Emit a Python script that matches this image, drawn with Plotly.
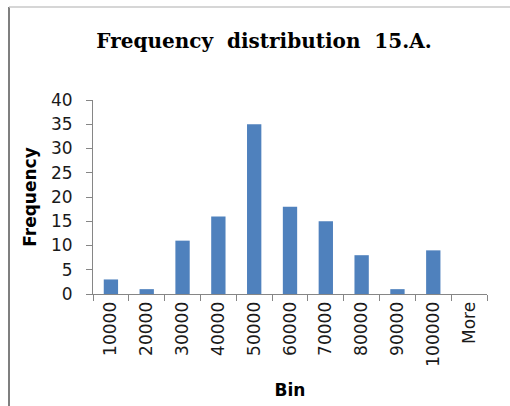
import plotly.graph_objects as go

bins = ["10000", "20000", "30000", "40000", "50000", "60000", "70000",
        "80000", "90000", "100000", "More"]
frequency = [3, 1, 11, 16, 35, 18, 15, 8, 1, 9, 0]

title_text = "Frequency\u00a0 distribution\u00a0 15.A."

fig = go.Figure()
fig.add_trace(go.Bar(x=bins, y=frequency, marker=dict(color="#4F81BD", line=dict(width=0))))

L, R, T, B = 93, 23, 100, 112
W, H = 510, 406
pw, ph = W - L - R, H - T - B

axis_col = "#868686"
tick_font = dict(family="DejaVu Sans", size=17, color="#1a1a1a")

fig.update_layout(
    width=W, height=H,
    margin=dict(l=L, r=R, t=T, b=B, autoexpand=False),
    paper_bgcolor="white", plot_bgcolor="white",
    bargap=0.6,
    showlegend=False,
    title=dict(text=title_text, x=264 / W, xanchor="center", y=1 - 41 / H, yanchor="middle",
               font=dict(family="DejaVu Serif", size=20, color="black", weight="bold")),
    xaxis=dict(
        type="category", tickson="boundaries", ticks="outside", ticklen=6, tickcolor=axis_col,
        showline=True, linecolor=axis_col, linewidth=1, showgrid=False, zeroline=False,
        tickangle=-90, tickfont=tick_font,
        title=dict(text="Bin", font=dict(family="DejaVu Sans", size=17, color="black", weight="bold"),
                   standoff=18),
        fixedrange=True,
    ),
    yaxis=dict(
        range=[0, 40], dtick=5, tick0=0, ticks="outside", ticklen=6, tickcolor=axis_col,
        showline=True, linecolor=axis_col, linewidth=1, showgrid=False, zeroline=False,
        tickfont=tick_font, ticklabelstandoff=10,
        title=dict(text="Frequency", font=dict(family="DejaVu Sans", size=17, color="black", weight="bold"),
                   standoff=10),
        fixedrange=True,
    ),
    shapes=[
        dict(type="line", xref="paper", yref="paper",
             x0=(9 - L) / pw, x1=(9 - L) / pw, y0=(H - B - 7) / ph, y1=(H - B - H) / ph,
             line=dict(color="#7f7f7f", width=2)),
        dict(type="line", xref="paper", yref="paper",
             x0=(9 - L) / pw, x1=(W - L) / pw, y0=(H - B - 7) / ph, y1=(H - B - 7) / ph,
             line=dict(color="#c8c8c8", width=1.5)),
    ],
)

fig.write_html("out.html")
